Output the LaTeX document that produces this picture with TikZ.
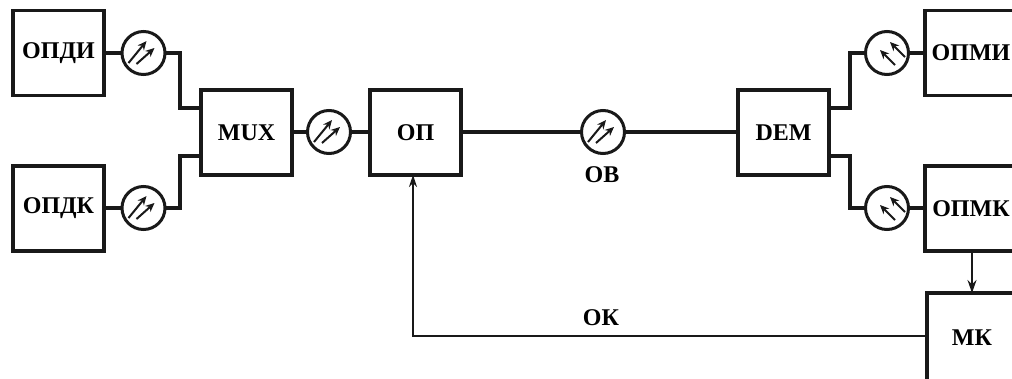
\documentclass[tikz,border=0pt]{standalone}
\usepackage{fontspec}
\setmainfont{Liberation Serif}
\usetikzlibrary{arrows.meta}
\tikzset{
  blockbox/.style={draw=black!90,line width=3.2pt,inner sep=0pt,outer sep=0pt,minimum width=91pt,minimum height=85pt,font=\bfseries\fontsize{24}{26}\selectfont},
  fiber/.style={draw=black!90,line width=3pt,circle,fill=white,inner sep=0pt,outer sep=0pt,minimum size=43pt},
  wire/.style={draw=black!90,line width=3.2pt},
  thin wire/.style={draw=black!90,line width=2pt},
  tag/.style={font=\bfseries\fontsize{24}{26}\selectfont,inner sep=0pt},
  ray/.style={draw=black!90,line width=2pt,-{Stealth[length=9pt,width=8pt]}}
}
\newcommand{\raysR}[1]{%
  \draw[ray] ([shift={(-15,10)}]#1.center) -- ([shift={(3,-12)}]#1.center);
  \draw[ray] ([shift={(-7,11)}]#1.center) -- ([shift={(11,-5)}]#1.center);}
\newcommand{\raysL}[1]{%
  \draw[ray] ([shift={(18,4)}]#1.center) -- ([shift={(3,-11)}]#1.center);
  \draw[ray] ([shift={(8,12)}]#1.center) -- ([shift={(-7,-3)}]#1.center);}
\begin{document}
\begin{tikzpicture}[x=1pt,y=-1pt]
\useasboundingbox (0,0) rectangle (1012,378);
\clip (0,0) rectangle (1012,378);
\fill[white] (0,0) rectangle (1012,378);
% blocks
\node[blockbox] (di) at (58.5,53) {ОПДИ};
\node[blockbox] (dk) at (58.5,208.5) {ОПДК};
\node[blockbox] (mux) at (246.5,132.5) {MUX};
\node[blockbox] (op) at (415.5,132.5) {ОП};
\node[blockbox] (dem) at (783.5,132.5) {DEM};
\node[blockbox,minimum width=92pt] (mi) at (971,53) {ОПМИ};
\node[blockbox,minimum width=92pt] (mk) at (971,208.5) {ОПМК};
\node[blockbox,minimum width=90pt,minimum height=90pt] (ctl) at (972,338) {МК};
% fibre symbols
\node[fiber] (c1) at (143.5,53) {};
\node[fiber] (c2) at (143.5,208) {};
\node[fiber] (c3) at (329,132) {};
\node[fiber] (c4) at (603,132) {};
\node[fiber] (c5) at (887,53) {};
\node[fiber] (c6) at (887,208) {};
% bends
\coordinate (a1) at (180,53);
\coordinate (a2) at (180,108);
\coordinate (b1) at (180,208);
\coordinate (b2) at (180,156);
\coordinate (d1) at (850,108);
\coordinate (d2) at (850,53);
\coordinate (e1) at (850,156);
\coordinate (e2) at (850,208);
\coordinate (fb) at (413,336);
% connectors
\draw[wire] (di.east|-c1) -- (c1.west);
\draw[wire] (dk.east|-c2) -- (c2.west);
\draw[wire,line join=miter] (c1.east) -- (a1) -- (a2) -- (mux.west|-a2);
\draw[wire,line join=miter] (c2.east) -- (b1) -- (b2) -- (mux.west|-b2);
\draw[wire] (mux.east|-c3) -- (c3.west);
\draw[wire] (c3.east) -- (op.west|-c3);
\draw[wire] (op.east|-c4) -- (c4.west);
\draw[wire] (c4.east) -- (dem.west|-c4);
\draw[wire,line join=miter] (dem.east|-d1) -- (d1) -- (d2) -- (c5.west);
\draw[wire,line join=miter] (dem.east|-e1) -- (e1) -- (e2) -- (c6.west);
\draw[wire] (c5.east) -- (mi.west|-c5);
\draw[wire] (c6.east) -- (mk.west|-c6);
\draw[thin wire,-{Stealth[length=13pt,width=9pt]}] (ctl.north|-mk.south) -- (ctl.north);
\draw[thin wire,-{Stealth[length=12pt,width=8pt]}] (ctl.west|-fb) -- (fb) -- (fb|-op.south);
% rays
\raysR{c1}\raysR{c2}\raysR{c3}\raysR{c4}
\raysL{c5}\raysL{c6}
% labels
\node[tag] (ob) at (602,175) {ОВ};
\node[tag] (ok) at (601,318) {ОК};
\end{tikzpicture}
\end{document}
